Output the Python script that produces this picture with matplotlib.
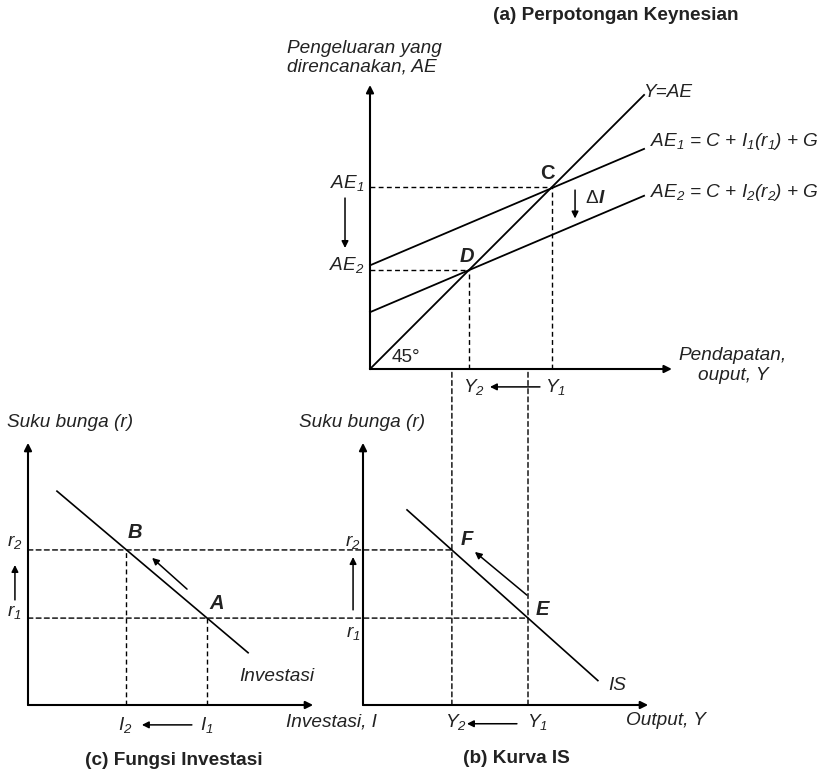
import matplotlib.pyplot as plt
from matplotlib.patches import ConnectionPatch
from matplotlib.transforms import blended_transform_factory

plt.rcParams['font.family'] = ['Liberation Sans', 'DejaVu Sans']
plt.rcParams['mathtext.fontset'] = 'custom'
plt.rcParams['mathtext.it'] = 'Liberation Sans:italic'
plt.rcParams['mathtext.rm'] = 'Liberation Sans:italic'
plt.rcParams['mathtext.bf'] = 'Liberation Sans:bold'

# (a) perpotongan Keynesian: Y dan AE
garis45_Y = [0, 96.5]
garis45_AE = [0, 96.5]
ae1_Y = [0, 96.5]
ae1_AE = [36.5, 77.5]
ae2_Y = [0, 96.5]
ae2_AE = [20.0, 61.0]
titik_C = (64.0, 64.0)
titik_D = (35.0, 35.0)

# (b) kurva IS
is_Y = [15.5, 82.7]
is_r = [68.7, 8.6]
r1, r2 = 30.6, 54.6
Y1_b, Y2_b = 58.1, 31.3

# (c) fungsi investasi
inv_I = [10.2, 77.5]
inv_r = [75.3, 18.4]
I1, I2 = 63.0, 34.5

W, H = 825, 771
S = 2.84  # piksel per satuan
fig = plt.figure(figsize=(W / 100, H / 100), dpi=100)

FS = 13.7
FP = 14.5
dash = (0, (3.5, 2.4))


def panel(ox, oy, xmax, ymax):
    ax = fig.add_axes([ox / W, 1 - oy / H, xmax * S / W, ymax * S / H])
    ax.set_xlim(0, xmax)
    ax.set_ylim(0, ymax)
    ax.set_axis_off()
    for end in [(xmax, 0), (0, ymax)]:
        ax.annotate('', xy=end, xytext=(0, 0), annotation_clip=False,
                    arrowprops=dict(arrowstyle='-|>', color='k', lw=1.5,
                                    mutation_scale=11, shrinkA=0, shrinkB=0))
    return ax


def panah(ax, start, end, trans=None):
    kw = {} if trans is None else dict(xycoords=trans, textcoords=trans)
    ax.annotate('', xy=end, xytext=start, annotation_clip=False,
                arrowprops=dict(arrowstyle='-|>', color='k', lw=1.1,
                                mutation_scale=10, shrinkA=0, shrinkB=0), **kw)


def teks(ax, x, y, s, **kw):
    kw.setdefault('fontsize', FS)
    kw.setdefault('style', 'italic')
    kw.setdefault('ha', 'center')
    kw.setdefault('va', 'center')
    ax.text(x, y, s, clip_on=False, color='#222222', **kw)


ax_a = panel(370, 369, 106.3, 100)
ax_b = panel(363, 705, 100.4, 92.3)
ax_c = panel(28, 705, 100.4, 92.3)

# ---- panel (a)
ax_a.plot(garis45_Y, garis45_AE, color='k', lw=1.3, clip_on=False)
ax_a.plot(ae1_Y, ae1_AE, color='k', lw=1.3, clip_on=False)
ax_a.plot(ae2_Y, ae2_AE, color='k', lw=1.3, clip_on=False)
for (px, py) in [titik_C, titik_D]:
    ax_a.plot([0, px], [py, py], color='k', lw=1.0, ls=dash)
    ax_a.plot([px, px], [0, py], color='k', lw=1.0, ls=dash)

teks(ax_a, 86.6, 124.4, '(a) Perpotongan Keynesian', style='normal', weight='bold')
teks(ax_a, -29.2, 109.5, 'Pengeluaran yang\ndirencanakan, AE', ha='left', linespacing=1.15)
teks(ax_a, 127.8, 1.3, 'Pendapatan,\nouput, Y', linespacing=1.2)
teks(ax_a, 96.1, 97.5, 'Y=AE', ha='left')
teks(ax_a, 98.6, 80.0, r'$AE_1$ = $C$ + $I_1(r_1)$ + $G$', ha='left')
teks(ax_a, 98.6, 62.0, r'$AE_2$ = $C$ + $I_2(r_2)$ + $G$', ha='left')
teks(ax_a, 12.7, 4.0, '45°', style='normal')
teks(ax_a, 62.3, 69.0, 'C', style='normal', weight='bold', fontsize=FP)
teks(ax_a, 34.2, 39.6, 'D', weight='bold', fontsize=FP)
teks(ax_a, -2.0, 65.5, r'$AE_1$', ha='right')
teks(ax_a, -2.0, 36.6, r'$AE_2$', ha='right')
panah(ax_a, (-8.8, 60.2), (-8.8, 42.6))
panah(ax_a, (72.2, 63.0), (72.2, 53.0))
teks(ax_a, 80.5, 60.0, 'Δ', style='normal', ha='right')
teks(ax_a, 80.5, 60.0, 'I', weight='bold', ha='left')

# ---- garis putus-putus yang menghubungkan panel
tr_ba = blended_transform_factory(ax_b.transData, ax_a.transData)
for yb in [Y2_b, Y1_b]:
    fig.add_artist(ConnectionPatch((yb, 0), (yb, 0), coordsA=ax_b.transData,
                                   coordsB=tr_ba, color='k', lw=1.0, ls=dash))
for (rv, yb) in [(r2, Y2_b), (r1, Y1_b)]:
    fig.add_artist(ConnectionPatch((0, rv), (yb, rv), coordsA=ax_c.transData,
                                   coordsB=ax_b.transData, color='k', lw=1.0, ls=dash))

teks(ax_b, 39.0, -6.3, r'$Y_2$', transform=tr_ba)
teks(ax_b, 67.6, -6.3, r'$Y_1$', transform=tr_ba)
panah(ax_b, (62.3, -6.3), (44.7, -6.3), trans=tr_ba)

# ---- panel (b)
ax_b.plot(is_Y, is_r, color='k', lw=1.2)
teks(ax_b, -0.4, 99.3, 'Suku bunga (r)')
teks(ax_b, -3.5, 57.4, r'$r_2$')
teks(ax_b, -3.5, 25.4, r'$r_1$')
panah(ax_b, (-3.5, 33.5), (-3.5, 52.1))
teks(ax_b, 36.6, 58.1, 'F', weight='bold', fontsize=FP)
teks(ax_b, 63.0, 33.8, 'E', weight='bold', fontsize=FP)
teks(ax_b, 89.4, 7.0, 'IS')
panah(ax_b, (57.7, 38.7), (39.4, 53.9))
teks(ax_b, 32.7, -6.0, r'$Y_2$')
teks(ax_b, 61.3, -6.0, r'$Y_1$')
panah(ax_b, (54.2, -6.6), (36.6, -6.6))
teks(ax_b, 106.7, -5.3, 'Output, Y')
teks(ax_b, 53.9, -18.7, '(b) Kurva IS', style='normal', weight='bold')

# ---- panel (c)
ax_c.plot(inv_I, inv_r, color='k', lw=1.2)
ax_c.plot([I2, I2], [0, r2], color='k', lw=1.0, ls=dash)
ax_c.plot([I1, I1], [0, r1], color='k', lw=1.0, ls=dash)
teks(ax_c, 14.8, 99.3, 'Suku bunga (r)')
teks(ax_c, -4.6, 57.4, r'$r_2$')
teks(ax_c, -4.9, 32.7, r'$r_1$')
panah(ax_c, (-4.6, 37.0), (-4.6, 49.3))
teks(ax_c, 37.7, 60.9, 'B', weight='bold', fontsize=FP)
teks(ax_c, 66.5, 35.9, 'A', weight='bold', fontsize=FP)
panah(ax_c, (56.0, 40.8), (43.7, 51.8))
teks(ax_c, 87.7, 10.2, 'Investasi')
teks(ax_c, 34.2, -7.0, r'$I_2$')
teks(ax_c, 63.0, -7.0, r'$I_1$')
panah(ax_c, (57.7, -7.0), (40.1, -7.0))
teks(ax_c, 107.0, -6.0, 'Investasi, I')
teks(ax_c, 51.4, -19.4, '(c) Fungsi Investasi', style='normal', weight='bold')

fig.savefig('out.png', dpi=100)
